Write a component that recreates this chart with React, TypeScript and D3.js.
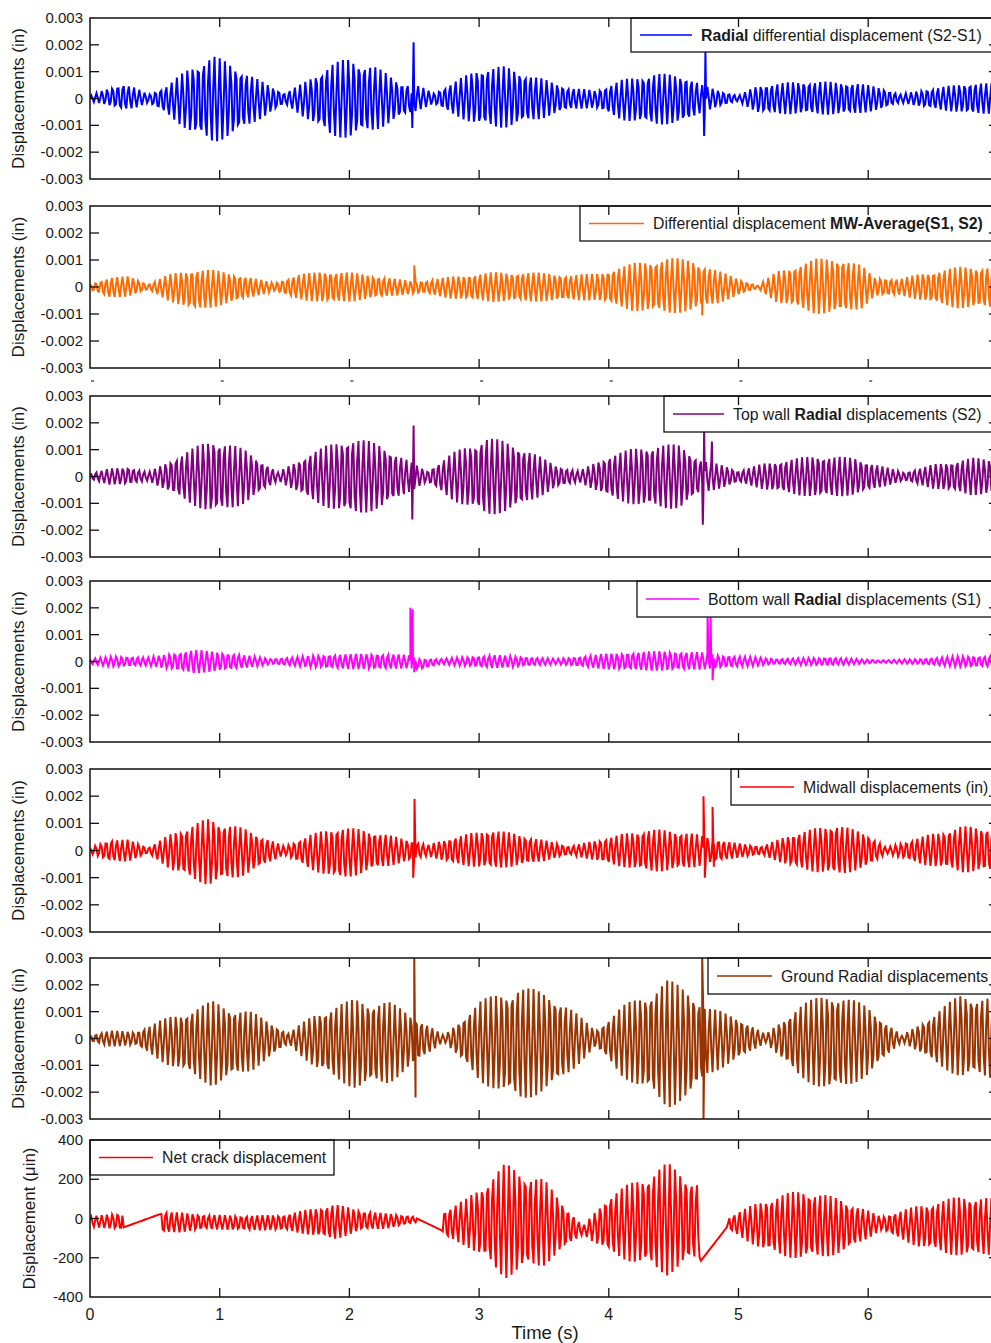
import React from "react";
import * as d3 from "d3";

// ---------- data ----------
const timeTicks = [0, 1, 2, 3, 4, 5, 6];
const dispTicks = [0.003, 0.002, 0.001, 0, -0.001, -0.002, -0.003];
const crackTicks = [400, 200, 0, -200, -400];

// envelope keypoints: [time s, upper, lower]  (milli-inches)
const radialEnv = [
  [0, 0.1, -0.1], [0.1, 0.3, -0.2], [0.25, 0.55, -0.45], [0.35, 0.4, -0.35], [0.45, 0.15, -0.15],
  [0.6, 0.5, -0.6], [0.8, 1.3, -1.4], [0.95, 1.6, -1.65], [1.1, 1.3, -1.4], [1.3, 0.7, -0.8],
  [1.5, 0.2, -0.2], [1.65, 0.6, -0.7], [1.85, 1.3, -1.4], [2.0, 1.5, -1.5], [2.2, 1.2, -1.2],
  [2.4, 0.6, -0.7], [2.55, 0.45, -0.4], [2.65, 0.2, -0.2], [2.8, 0.6, -0.6], [3.0, 1.15, -1.05],
  [3.2, 1.2, -1.1], [3.45, 0.8, -0.8], [3.7, 0.4, -0.4], [3.9, 0.3, -0.35], [4.1, 0.7, -0.8],
  [4.35, 0.95, -1.0], [4.6, 0.85, -0.9], [4.72, 0.5, -0.5], [4.85, 0.3, -0.3], [5.0, 0.1, -0.1],
  [5.15, 0.5, -0.55], [5.5, 0.65, -0.6], [5.9, 0.6, -0.6], [6.1, 0.4, -0.4], [6.25, 0.15, -0.15],
  [6.45, 0.35, -0.35], [6.8, 0.6, -0.6], [7.0, 0.55, -0.55],
];
const radialSpikes = [[2.485, -1.1], [2.495, 2.1], [4.735, -1.4], [4.745, 1.75]];

const mwAvgEnv = [
  [0, 0.1, -0.1], [0.15, 0.35, -0.4], [0.3, 0.4, -0.35], [0.45, 0.1, -0.1], [0.6, 0.45, -0.5],
  [0.8, 0.7, -0.9], [1.0, 0.6, -0.7], [1.2, 0.4, -0.45], [1.42, 0.15, -0.15], [1.6, 0.45, -0.45],
  [1.8, 0.6, -0.6], [2.0, 0.55, -0.55], [2.3, 0.35, -0.35], [2.5, 0.2, -0.25], [2.6, 0.25, -0.25],
  [2.8, 0.4, -0.45], [3.1, 0.55, -0.55], [3.4, 0.55, -0.55], [3.7, 0.45, -0.5], [3.9, 0.5, -0.5],
  [4.2, 0.9, -0.9], [4.45, 1.1, -1.0], [4.65, 1.0, -0.9], [4.85, 0.6, -0.6], [5.05, 0.2, -0.2],
  [5.15, 0.05, -0.05], [5.3, 0.6, -0.6], [5.6, 1.05, -1.0], [5.8, 1.1, -1.0], [5.95, 0.8, -0.8],
  [6.05, 0.35, -0.35], [6.25, 0.3, -0.3], [6.4, 0.5, -0.5], [6.7, 0.75, -0.8], [7.0, 0.8, -0.8],
];
const mwAvgSpikes = [[2.5, 0.8], [4.72, -1.05]];

const topWallEnv = [
  [0, 0.1, -0.1], [0.15, 0.3, -0.3], [0.3, 0.35, -0.3], [0.45, 0.15, -0.15], [0.65, 0.7, -0.7],
  [0.95, 1.45, -1.45], [1.2, 1.0, -1.0], [1.45, 0.15, -0.15], [1.7, 0.9, -0.9], [2.0, 1.5, -1.5],
  [2.25, 1.2, -1.2], [2.45, 0.6, -0.6], [2.6, 0.2, -0.2], [2.8, 0.9, -0.9], [3.05, 1.5, -1.5],
  [3.3, 1.2, -1.2], [3.6, 0.4, -0.4], [3.77, 0.2, -0.2], [4.0, 0.8, -0.8], [4.3, 1.2, -1.2],
  [4.55, 1.2, -1.2], [4.72, 0.6, -0.6], [4.9, 0.4, -0.4], [5.0, 0.2, -0.2], [5.2, 0.5, -0.5],
  [5.6, 0.8, -0.8], [5.9, 0.7, -0.7], [6.1, 0.4, -0.4], [6.28, 0.15, -0.15], [6.5, 0.45, -0.45],
  [6.8, 0.7, -0.7], [7.0, 0.65, -0.65],
];
const topWallSpikes = [[2.485, -1.6], [2.495, 1.9], [4.725, -1.8], [4.735, 1.7], [4.795, 1.3]];

const bottomWallEnv = [
  [0, 0.1, -0.1], [0.2, 0.2, -0.2], [0.45, 0.15, -0.15], [0.8, 0.45, -0.45], [1.1, 0.3, -0.3],
  [1.4, 0.1, -0.1], [1.8, 0.25, -0.25], [2.2, 0.3, -0.3], [2.45, 0.25, -0.25], [2.55, 0.1, -0.3],
  [2.7, 0.1, -0.1], [3.1, 0.25, -0.25], [3.6, 0.1, -0.1], [4.0, 0.3, -0.3], [4.4, 0.4, -0.35],
  [4.7, 0.35, -0.3], [4.85, 0.25, -0.25], [5.3, 0.1, -0.1], [5.7, 0.15, -0.15], [6.1, 0.05, -0.05],
  [6.4, 0.1, -0.1], [6.7, 0.2, -0.2], [7.0, 0.2, -0.2],
];
const bottomWallSpikes = [
  [2.47, 2.0], [2.478, 0.2], [2.488, 1.95], [2.5, -0.4],
  [4.762, 1.7], [4.77, 0.2], [4.785, 1.7], [4.8, -0.7],
];

const midwallEnv = [
  [0, 0.1, -0.1], [0.15, 0.4, -0.4], [0.3, 0.4, -0.4], [0.45, 0.1, -0.1], [0.65, 0.7, -0.8],
  [0.92, 1.2, -1.3], [1.2, 0.8, -0.9], [1.5, 0.15, -0.15], [1.7, 0.6, -0.7], [1.92, 0.9, -1.1],
  [2.2, 0.7, -0.7], [2.45, 0.4, -0.4], [2.6, 0.2, -0.2], [2.8, 0.5, -0.5], [3.1, 0.8, -0.7],
  [3.4, 0.5, -0.5], [3.7, 0.15, -0.15], [4.0, 0.5, -0.5], [4.3, 0.8, -0.8], [4.6, 0.7, -0.7],
  [4.75, 0.5, -0.5], [4.95, 0.3, -0.3], [5.18, 0.15, -0.15], [5.4, 0.6, -0.6], [5.75, 1.0, -0.95],
  [6.0, 0.6, -0.6], [6.14, 0.1, -0.1], [6.4, 0.5, -0.5], [6.72, 0.9, -0.8], [7.0, 0.85, -0.8],
];
const midwallSpikes = [[2.492, -1.0], [2.502, 1.9], [4.73, 2.0], [4.74, -1.0], [4.8, 1.6], [4.81, -0.6]];

const groundEnv = [
  [0, 0.1, -0.1], [0.15, 0.3, -0.3], [0.35, 0.25, -0.25], [0.6, 0.8, -1.0], [0.95, 1.4, -1.8],
  [1.25, 1.0, -1.2], [1.53, 0.2, -0.2], [1.75, 1.0, -1.2], [2.05, 1.5, -1.9], [2.3, 1.4, -1.7],
  [2.55, 0.7, -0.8], [2.73, 0.1, -0.1], [3.0, 1.4, -1.6], [3.3, 2.0, -2.4], [3.6, 1.6, -1.8],
  [3.9, 0.3, -0.3], [4.1, 1.2, -1.4], [4.45, 2.2, -2.6], [4.65, 1.8, -2.2], [4.75, 1.2, -1.4],
  [5.0, 0.8, -0.8], [5.21, 0.15, -0.15], [5.45, 1.2, -1.4], [5.72, 1.8, -2.1], [6.0, 1.2, -1.4],
  [6.26, 0.1, -0.1], [6.5, 0.9, -0.9], [6.72, 1.7, -1.5], [7.0, 1.5, -1.5],
];
const groundSpikes = [[2.5, 3.1], [2.51, -2.2], [4.72, 3.1], [4.73, -3.1]];

// net crack displacement, micro-inches
const crackEnv = [
  [0, 10, -40], [0.25, 30, -60], [0.26, -45, -45], [0.53, 20, 20], [0.55, 40, -75],
  [0.7, 30, -70], [0.9, 20, -55], [1.2, 15, -60], [1.5, 20, -60], [1.7, 50, -85],
  [1.88, 75, -110], [2.1, 40, -60], [2.3, 25, -50], [2.51, 10, -20], [2.52, 0, 0],
  [2.71, -60, -60], [2.73, 40, -95], [2.9, 100, -140], [3.2, 280, -305], [3.5, 200, -240],
  [3.8, -40, -80], [4.0, 120, -180], [4.45, 285, -290], [4.7, 180, -210], [4.71, -215, -215],
  [4.91, -45, -45], [4.93, 10, -60], [5.2, 100, -170], [5.5, 150, -215], [5.8, 100, -180],
  [6.1, 10, -60], [6.4, 70, -150], [6.75, 120, -200], [7.0, 100, -180],
];
const crackSpikes: number[][] = [];

// ---------- layout ----------
const W = 991, H = 1343;
const X0 = 90, X1 = 997.9;

type Legend = { x: number; w: number; h: number; parts: [string, boolean][]; lineLen: number };
type Panel = {
  top: number; bottom: number; color: string; env: number[][]; spikes: number[][];
  domain: [number, number]; ticks: number[]; tickLabel: (v: number) => string; tickVal: (v: number) => number;
  title: string; titleX: number; legend: Legend; freq: number; phase: number;
};

const milli = (v: number) => v * 1000;
const fmtIn = (v: number) => (v === 0 ? "0" : v.toFixed(3));

const panels: Panel[] = [
  { top: 18, bottom: 179, color: "#0000ff", env: radialEnv, spikes: radialSpikes, domain: [-3, 3], ticks: dispTicks, tickLabel: fmtIn, tickVal: milli, title: "Displacements (in)", titleX: 18, freq: 24.2, phase: 0.3,
    legend: { x: 631, w: 370, h: 34, lineLen: 52, parts: [["Radial", true], [" differential displacement (S2-S1)", false]] } },
  { top: 206, bottom: 368, color: "#ff6a00", env: mwAvgEnv, spikes: mwAvgSpikes, domain: [-3, 3], ticks: dispTicks, tickLabel: fmtIn, tickVal: milli, title: "Displacements (in)", titleX: 18, freq: 24.3, phase: 1.1,
    legend: { x: 580, w: 420, h: 35, lineLen: 55, parts: [["Differential displacement ", false], ["MW-Average(S1, S2)", true]] } },
  { top: 396, bottom: 557, color: "#800080", env: topWallEnv, spikes: topWallSpikes, domain: [-3, 3], ticks: dispTicks, tickLabel: fmtIn, tickVal: milli, title: "Displacements (in)", titleX: 18, freq: 24.25, phase: 0.7,
    legend: { x: 664, w: 340, h: 36, lineLen: 51, parts: [["Top wall ", false], ["Radial", true], [" displacements (S2)", false]] } },
  { top: 581, bottom: 742, color: "#ff00ff", env: bottomWallEnv, spikes: bottomWallSpikes, domain: [-3, 3], ticks: dispTicks, tickLabel: fmtIn, tickVal: milli, title: "Displacements (in)", titleX: 18, freq: 24.35, phase: 2.0,
    legend: { x: 637, w: 365, h: 36, lineLen: 53, parts: [["Bottom wall ", false], ["Radial", true], [" displacements (S1)", false]] } },
  { top: 769, bottom: 932, color: "#ff0000", env: midwallEnv, spikes: midwallSpikes, domain: [-3, 3], ticks: dispTicks, tickLabel: fmtIn, tickVal: milli, title: "Displacements (in)", titleX: 18, freq: 24.15, phase: 1.5,
    legend: { x: 731, w: 270, h: 36, lineLen: 54, parts: [["Midwall displacements (in)", false]] } },
  { top: 958, bottom: 1119, color: "#993300", env: groundEnv, spikes: groundSpikes, domain: [-3, 3], ticks: dispTicks, tickLabel: fmtIn, tickVal: milli, title: "Displacements (in)", titleX: 18, freq: 24.3, phase: 0.9,
    legend: { x: 708, w: 295, h: 36, lineLen: 55, parts: [["Ground  Radial displacements", false]] } },
  { top: 1140, bottom: 1297, color: "#ff0000", env: crackEnv, spikes: crackSpikes, domain: [-400, 400], ticks: crackTicks, tickLabel: (v) => String(v), tickVal: (v) => v, title: "Displacement (\u03bcin)", titleX: 29, freq: 24.2, phase: 0.4,
    legend: { x: 90, w: 244, h: 35, lineLen: 54, parts: [["Net crack displacement", false]] } },
];

const x = d3.scaleLinear().domain([0, 7]).range([X0, X1]);
const FONT = "'Liberation Sans', Arial, sans-serif";
const TXT = "#1a1a1a";

function buildSeries(p: Panel) {
  const T = p.env.map((d) => d[0]);
  const up = d3.scaleLinear().domain(T).range(p.env.map((d) => d[1])).clamp(true);
  const lo = d3.scaleLinear().domain(T).range(p.env.map((d) => d[2])).clamp(true);
  const pts: [number, number][] = [];
  const dt = 0.01;
  for (let i = 0; i <= 700; i++) {
    const t = i * dt;
    const u = up(t), l = lo(t);
    const mid = (u + l) / 2, half = (u - l) / 2;
    pts.push([t, mid + half * Math.sin(2 * Math.PI * p.freq * t + p.phase)]);
  }
  p.spikes.forEach((s) => pts.push([s[0], s[1]]));
  pts.sort((a, b) => a[0] - b[0]);
  return pts;
}

function PanelView({ p, idx }: { p: Panel; idx: number }) {
  const y = d3.scaleLinear().domain(p.domain).range([p.bottom, p.top]);
  const data = buildSeries(p);
  const line = d3.line<[number, number]>().x((d) => x(d[0])).y((d) => y(d[1]));
  const clipId = `clip${idx}`;
  const tick = 9;
  const inner = p.ticks.filter((v) => { const yy = y(p.tickVal(v)); return yy > p.top + 1 && yy < p.bottom - 1; });
  const lg = p.legend;
  const ly = p.top + lg.h / 2;
  return (
    <g>
      <defs>
        <clipPath id={clipId}>
          <rect x={X0} y={p.top} width={X1 - X0} height={p.bottom - p.top} />
        </clipPath>
      </defs>
      <path d={line(data) || ""} fill="none" stroke={p.color} strokeWidth={2} strokeLinejoin="miter" clipPath={`url(#${clipId})`} />
      {/* legend */}
      <rect x={lg.x} y={p.top} width={lg.w} height={lg.h} fill="#fff" stroke="#111" strokeWidth={1.3} />
      <line x1={lg.x + 9} x2={lg.x + 9 + lg.lineLen} y1={ly} y2={ly} stroke={p.color} strokeWidth={1.3} />
      <text x={lg.x + lg.lineLen + 18} y={ly + 5.5} fontFamily={FONT} fontSize={15.8} fill={TXT}>
        {lg.parts.map((pt, i) => (
          <tspan key={i} fontWeight={pt[1] ? "bold" : "normal"}>{pt[0]}</tspan>
        ))}
      </text>
      {/* frame */}
      <rect x={X0} y={p.top} width={X1 - X0} height={p.bottom - p.top} fill="none" stroke="#111" strokeWidth={1.5} />
      {inner.map((v, i) => (
        <g key={"yt" + i}>
          <line x1={X0} x2={X0 + tick} y1={y(p.tickVal(v))} y2={y(p.tickVal(v))} stroke="#111" strokeWidth={1.3} />
          <line x1={X1} x2={X1 - tick} y1={y(p.tickVal(v))} y2={y(p.tickVal(v))} stroke="#111" strokeWidth={1.3} />
        </g>
      ))}
      {timeTicks.filter((t) => t > 0).map((t) => (
        <g key={"xt" + t}>
          <line x1={x(t)} x2={x(t)} y1={p.top} y2={p.top + tick} stroke="#111" strokeWidth={1.3} />
          <line x1={x(t)} x2={x(t)} y1={p.bottom} y2={p.bottom - tick} stroke="#111" strokeWidth={1.3} />
        </g>
      ))}
      {p.ticks.map((v, i) => (
        <text key={"yl" + i} x={83} y={y(p.tickVal(v)) + 5} textAnchor="end" fontFamily={FONT} fontSize={15} fill={TXT}>
          {p.tickLabel(v)}
        </text>
      ))}
      <text transform={`translate(${p.titleX},${(p.top + p.bottom) / 2}) rotate(-90)`} textAnchor="middle" dy="0.35em"
        fontFamily={FONT} fontSize={17} fill={TXT}>
        {p.title}
      </text>
    </g>
  );
}

export default function App() {
  const last = panels[panels.length - 1];
  const p2 = panels[1];
  return (
    <svg width={W} height={H} style={{ position: "absolute", left: 0, top: 0, background: "#fff" }}>
      <rect x={0} y={0} width={W} height={H} fill="#fff" />
      {panels.map((p, i) => <PanelView key={i} p={p} idx={i} />)}
      {/* clipped tick-label remnants under the second panel */}
      {timeTicks.map((t) => (
        <line key={"rm" + t} x1={x(t) + 1} x2={x(t) + 4} y1={p2.bottom + 13} y2={p2.bottom + 13} stroke="#556" strokeWidth={1.5} />
      ))}
      {timeTicks.map((t) => (
        <text key={"xl" + t} x={x(t)} y={last.bottom + 23} textAnchor="middle" fontFamily={FONT} fontSize={16} fill={TXT}>
          {t}
        </text>
      ))}
      <text x={545} y={1339} textAnchor="middle" fontFamily={FONT} fontSize={18.5} fill={TXT}>Time (s)</text>
    </svg>
  );
}
